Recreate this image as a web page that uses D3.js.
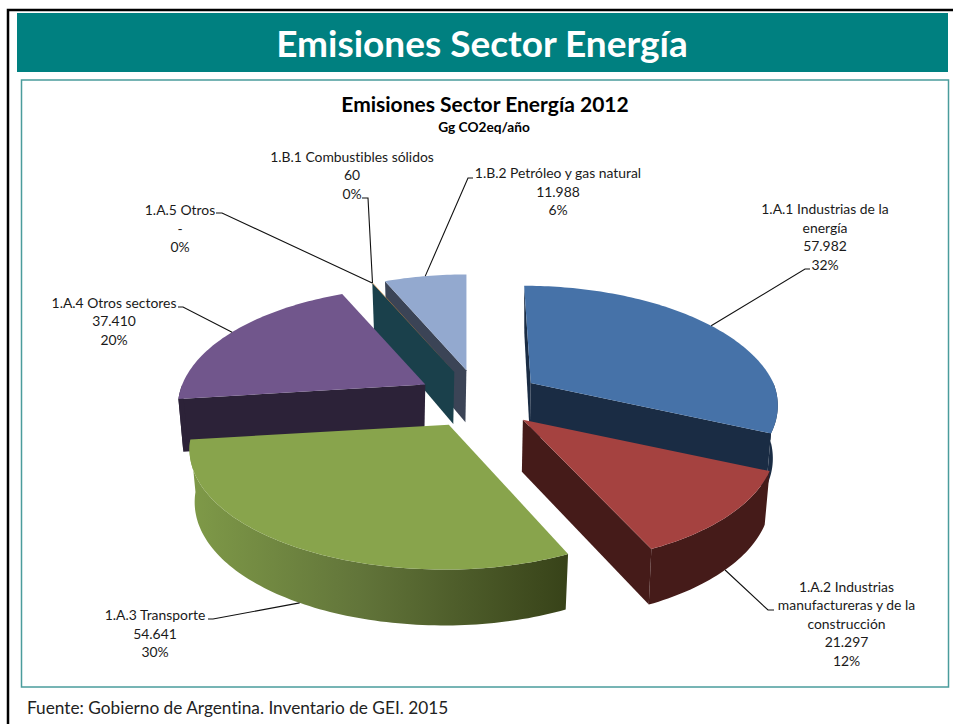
<!DOCTYPE html>
<html>
<head>
<meta charset="utf-8">
<script src="https://cdn.jsdelivr.net/npm/d3@7"></script>
<style>
  body { margin: 0; background: #fff; }
  svg { display: block; }
  text { font-family: Lato, "Open Sans", sans-serif; font-variant-ligatures: none; }
</style>
</head>
<body>
<div id="plot"></div>
<script>
var categories = [
  "1.A.1 Industrias de la energía",
  "1.A.2 Industrias manufactureras y de la construcción",
  "1.A.3 Transporte",
  "1.A.4 Otros sectores",
  "1.A.5 Otros",
  "1.B.1 Combustibles sólidos",
  "1.B.2 Petróleo y gas natural"
];
var values = [57982, 21297, 54641, 37410, 0, 60, 11988];
var valueLabels = ["57.982", "21.297", "54.641", "37.410", "-", "60", "11.988"];
var percentLabels = ["32%", "12%", "30%", "20%", "0%", "0%", "6%"];
var topColors = ["#4672a8", "#a54240", "#88a44c", "#71568c", "#4198af", "#d98a3a", "#93a9cf"];
var wallColors = ["#1a2c44", "#451b19", "#566a2e", "#2c2238", "#1b4450", "#1a404b", "#3b4456"];

// category names as they wrap on the page
var nameLines = [
  ["1.A.1 Industrias de la", "energía"],
  ["1.A.2 Industrias", "manufactureras y de la", "construcción"],
  ["1.A.3 Transporte"],
  ["1.A.4 Otros sectores"],
  ["1.A.5 Otros"],
  ["1.B.1 Combustibles sólidos"],
  ["1.B.2 Petróleo y gas natural"]
];

// label anchors and leader knees, page coordinates
var labelX = [825, 846.5, 155, 114, 180, 352, 558];
var labelY = [214, 591.5, 620, 307.5, 215, 161.5, 178];
var knees = [
  [[805, 269], [810, 269]],
  [[768, 610], [774, 610]],
  [[213, 619], [208, 619]],
  [[183, 307], [178, 307]],
  [[222, 213], [216, 213]],
  [[368, 198], [362, 198]],
  [[468, 178], [473, 178]]
];

var width = 953, height = 724;
var cx = 479, cy = 399, rx = 247, ry = 117.6;
var persp = 0.1886, explode = 0.25, depth = 52, shrink = 0.98, globalPersp = 0.13;

var svg = d3.select("#plot").append("svg")
  .attr("width", width)
  .attr("height", height);

// unit disc -> page
var xScale = d3.scaleLinear().domain([-1, 1]).range([cx - rx, cx + rx]);
var yScale = d3.scaleLinear().domain([-1, 1]).range([cy - ry, cy + ry]);

var pie = d3.pie().sort(null).value(d => d);
var slices = pie(values).map((s, i) => {
  var mid = (s.startAngle + s.endAngle) / 2;
  s.i = i;
  s.mid = mid;
  s.ev = -explode * Math.cos(mid);
  s.ax = xScale(explode * Math.sin(mid));
  s.ay = yScale(s.ev);
  return s;
});

// point on the rim of a slice, top face (bottom=false) or lower face
var rim = function (s, a, bottom) {
  var u = Math.sin(a), v = -Math.cos(a);
  var k = 1 / (1 - persp * v);
  var kx = (s.ev > 0 && u > 0) ? 1 : 1 + globalPersp * s.ev;
  var ky = 1 + globalPersp * Math.min(s.ev, 0);
  var lean = v > 0 ? (s.ev > 0 ? 0.6 : 0) : (s.ax > cx ? 0.8 : 0);
  var X = (xScale(u) - cx) * k * kx + (s.ax - cx) * (k - 1) * lean;
  var Y = (yScale(v) - cy) * k * ky;
  if (!bottom) return [s.ax + X, s.ay + Y];
  return [s.ax + X * shrink, s.ay + Y * shrink + depth * (1 + 0.13 * v)];
};
var apex = function (s, bottom) {
  return bottom ? [s.ax - 1, s.ay + depth] : [s.ax, s.ay];
};
var arcPts = function (s, a0, a1, bottom) {
  var n = Math.max(2, Math.ceil((a1 - a0) / 0.02));
  return d3.range(n + 1).map(j => rim(s, a0 + (a1 - a0) * j / n, bottom));
};
var line = d3.line();

// frames
svg.append("rect").attr("x", 8).attr("y", 10).attr("width", 960).attr("height", 730)
  .attr("fill", "none").attr("stroke", "#000").attr("stroke-width", 2.5);
svg.append("rect").attr("x", 17).attr("y", 13).attr("width", 931).attr("height", 59)
  .attr("fill", "#008080");
svg.append("rect").attr("x", 21.5).attr("y", 80).attr("width", 927).attr("height", 607)
  .attr("fill", "#fff").attr("stroke", "#4a9c9c").attr("stroke-width", 1.5);

svg.append("text").attr("x", 482).attr("y", 57).attr("text-anchor", "middle")
  .attr("fill", "#fff").attr("font-size", 37).attr("font-weight", 700)
  .text("Emisiones Sector Energía");
svg.append("text").attr("x", 485).attr("y", 112).attr("text-anchor", "middle")
  .attr("font-size", 21).attr("font-weight", 700)
  .text("Emisiones Sector Energía 2012");
svg.append("text").attr("x", 484).attr("y", 132).attr("text-anchor", "middle")
  .attr("font-size", 13.7).attr("font-weight", 700)
  .text("Gg CO2eq/año");
svg.append("text").attr("x", 27).attr("y", 714)
  .attr("font-size", 17.25).attr("fill", "#222")
  .text("Fuente: Gobierno de Argentina. Inventario de GEI. 2015");

// green wall shading runs left to right
var grad = svg.append("defs").append("linearGradient")
  .attr("id", "greenWall").attr("gradientUnits", "userSpaceOnUse")
  .attr("x1", 190).attr("x2", 565).attr("y1", 0).attr("y2", 0);
grad.append("stop").attr("offset", 0).attr("stop-color", "#7f9a48");
grad.append("stop").attr("offset", 0.45).attr("stop-color", "#62753a");
grad.append("stop").attr("offset", 1).attr("stop-color", "#384319");

// back to front
var order = [6, 5, 4, 3, 0, 1, 2];
order.forEach(idx => {
  var s = slices[idx];
  if (s.value === 0) return;
  var g = svg.append("g").attr("class", "slice");
  var wall = s.i === 2 ? "url(#greenWall)" : wallColors[s.i];
  var face = function (a) {
    var pts = [apex(s, false), rim(s, a, false), rim(s, a, true), apex(s, true)];
    g.append("path").attr("d", line(pts) + "Z").attr("fill", wallColors[s.i]);
  };
  // cut faces that look toward the viewer
  if (Math.sin(s.startAngle) < 0 || s.i === 0) face(s.startAngle);
  if (Math.sin(s.endAngle) > 0) face(s.endAngle);
  // rim wall, only the near half of the disc
  var a0 = Math.max(s.startAngle, Math.PI / 2), a1 = Math.min(s.endAngle, Math.PI * 1.5);
  if (a1 > a0) {
    var pts = arcPts(s, a0, a1, false).concat(arcPts(s, a0, a1, true).reverse());
    g.append("path").attr("d", line(pts) + "Z").attr("fill", wall);
  }
  // top face
  var top = [apex(s, false)].concat(arcPts(s, s.startAngle, s.endAngle, false));
  g.append("path").attr("d", line(top) + "Z").attr("fill", topColors[s.i]);
});

// leaders, from the slice rim at its mid angle to the knee
slices.forEach(s => {
  var near = Math.cos(s.mid) < 0;
  var start = rim(s, s.mid, near);
  var pts = [start].concat(knees[s.i]);
  svg.append("path").attr("d", line(pts)).attr("fill", "none")
    .attr("stroke", "#111").attr("stroke-width", 1.1);
});

// labels
categories.forEach((c, i) => {
  var t = svg.append("text").attr("text-anchor", "middle")
    .attr("font-size", 13.9).attr("fill", "#1a1a1a");
  nameLines[i].concat([valueLabels[i], percentLabels[i]]).forEach((l, j) => {
    t.append("tspan").attr("x", labelX[i]).attr("y", labelY[i] + j * 18.5).text(l);
  });
});
</script>
</body>
</html>
